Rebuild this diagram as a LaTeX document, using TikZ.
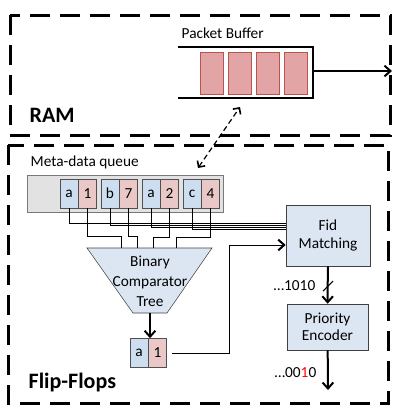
\documentclass[tikz,border=0pt]{standalone}
\usepackage{fontspec}
\setmainfont{Carlito}
\usepackage{tikz}
\usetikzlibrary{arrows.meta,positioning}

\begin{document}
\begin{tikzpicture}[x=0.75pt,y=-0.75pt,
    font=\fontsize{11.5}{13}\selectfont,
    region/.style={line width=2.25pt,dash pattern=on 15pt off 7.5pt},
    bigarrow/.style={line width=1.5pt,-{Straight Barb[length=4.5pt,width=8pt]}},
    wire/.style={line width=0.65pt},
    fidcell/.style={draw=cellline,fill=fidblue,minimum width=13.5pt,minimum height=21.75pt,inner sep=0pt},
    valcell/.style={draw=cellline,fill=valred,minimum width=13.5pt,minimum height=21.75pt,inner sep=0pt},
    unit/.style={draw=boxline,fill=boxblue,align=center,inner sep=0pt},
    packet/.style={draw=pktline,fill=pktred,line width=1.2pt,minimum width=17pt,minimum height=31.5pt,inner sep=0pt},
    title/.style={anchor=west,font=\bfseries\fontsize{16.5}{18}\selectfont}]
    \definecolor{fidblue}{RGB}{205,222,240}
    \definecolor{valred}{RGB}{234,200,200}
    \definecolor{cellline}{RGB}{80,80,80}
    \definecolor{boxblue}{RGB}{220,230,242}
    \definecolor{boxline}{RGB}{64,64,64}
    \definecolor{queuegray}{RGB}{226,226,226}
    \definecolor{queueline}{RGB}{120,120,120}
    \definecolor{pktred}{RGB}{226,164,164}
    \definecolor{pktline}{RGB}{184,84,80}

    \useasboundingbox (0,0) rectangle (396,408);

    % RAM
    \draw[region] (10,15) rectangle (390,135);
    \node[title] (ram) at (25,115) {RAM};

    % Packet buffer (open on the left)
    \node[anchor=west] (buflabel) at (177,33) {Packet Buffer};
    \draw[line width=1.5pt] (178,47) -- (313,47) -- (313,98) -- (178,98);
    \node[packet] (pkt1) at (212,73.5) {};
    \node[packet] (pkt2) at (240,73.5) {};
    \node[packet] (pkt3) at (268,73.5) {};
    \node[packet] (pkt4) at (296,73.5) {};
    \coordinate (bufout) at (313,71);
    \coordinate (ramexit) at (392,71);
    \draw[bigarrow] (bufout) -- (ramexit);

    % link between buffer and queue
    \coordinate (bufport) at (240,107);
    \coordinate (queueport) at (198,168);
    \draw[line width=0.9pt,dash pattern=on 4pt off 2.5pt,
          {Straight Barb[length=3.5pt,width=7pt,line width=1.2pt]}-{Straight Barb[length=3.5pt,width=7pt,line width=1.2pt]}]
         (queueport) -- (bufport);

    % Flip-Flops
    \draw[region] (8,145) rectangle (388,403);
    \node[title] (ff) at (24,383) {Flip-Flops};

    % Meta-data queue
    \node[anchor=west] (mdqlabel) at (26,162) {Meta-data queue};
    \node[draw=queueline,fill=queuegray,minimum width=147pt,minimum height=27.75pt] (queue) at (125,193.5) {};
    \node[fidcell] (fid1) at (69,193.5) {a};
    \node[valcell,right=0pt of fid1] (val1) {1};
    \node[fidcell] (fid2) at (110,193.5) {b};
    \node[valcell,right=0pt of fid2] (val2) {7};
    \node[fidcell] (fid3) at (151,193.5) {a};
    \node[valcell,right=0pt of fid3] (val3) {2};
    \node[fidcell] (fid4) at (192,193.5) {c};
    \node[valcell,right=0pt of fid4] (val4) {4};

    % Fid matching and priority encoder
    \node[unit,minimum width=63pt,minimum height=45.75pt,font=\fontsize{11.5}{14}\selectfont] (fidm) at (328,235.5) {Fid\\Matching};
    \node[unit,minimum width=60.75pt,minimum height=34.5pt,font=\fontsize{11.5}{12.5}\selectfont] (prio) at (327.5,327) {Priority\\Encoder};

    % fid wires
    \coordinate (m1) at ([yshift=9.4pt]fidm.west);
    \coordinate (m2) at ([yshift=7.9pt]fidm.west);
    \coordinate (m3) at ([yshift=6.4pt]fidm.west);
    \coordinate (m4) at ([yshift=4.9pt]fidm.west);
    \draw[wire] (fid1.south) |- (m1);
    \draw[wire] (fid2.south) |- (m2);
    \draw[wire] (fid3.south) |- (m3);
    \draw[wire] (fid4.south) |- (m4);

    % Comparator tree
    \draw[draw=boxline,fill=boxblue] (87,248) -- (212,248) -- (167,313) -- (133,313) -- cycle;
    \node[align=center,font=\fontsize{11.5}{15}\selectfont] (tree) at (150,281) {Binary\\Comparator\\Tree};
    \coordinate (t1) at (121,248);
    \coordinate (t2) at (137,248);
    \coordinate (t3) at (153,248);
    \coordinate (t4) at (176,248);
    \draw[wire] (val1.south) -- ++(0,28) -| (t1);
    \draw[wire] (val2.south) -- ++(0,28) -| (t2);
    \draw[wire] (val3.south) -- ++(0,29) -| (t3);
    \draw[wire] (val4.south) -- ++(0,29) -| (t4);

    % result
    \node[fidcell] (resfid) at (139,353) {a};
    \node[valcell,right=0pt of resfid] (resval) {1};
    \coordinate (treeout) at (150,313);
    \draw[bigarrow] (treeout) -- (treeout |- resfid.north);
    \coordinate (turn) at (229,245);
    \draw[wire,-{Straight Barb[length=4.5pt,width=8pt,line width=1.5pt]}]
         ([xshift=3.75pt]resval.east) -| (turn) -- (turn -| fidm.west);

    % outputs
    \draw[bigarrow] (fidm) -- (prio);
    \node[anchor=east] (bits1) at (320,286) {\dots1010};
    \draw[line width=0.8pt] (323,291) -- (333,281);
    \coordinate (encout) at (328,390);
    \draw[bigarrow] (prio) -- (encout);
    \node[anchor=east] (bits2) at (321,373) {\dots00\textcolor{red}{1}0};
\end{tikzpicture}
\end{document}
